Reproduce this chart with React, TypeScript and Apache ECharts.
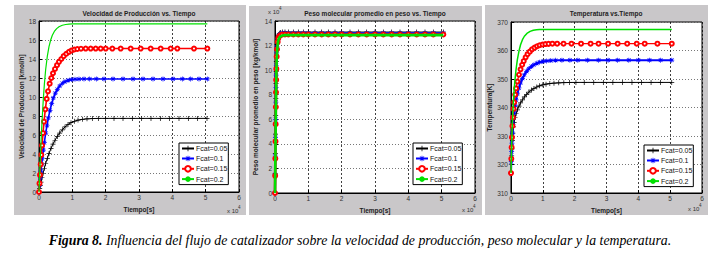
import React, { useEffect, useRef } from 'react';
import * as echarts from 'echarts';

// ---------- texts ----------
const titles = [
  'Velocidad de Producción vs. Tiempo',
  'Peso molecular promedio en peso vs. Tiempo',
  'Temperatura vs.Tiempo',
];
const yNames = [
  'Velocidad de Produccion [kmol/h]',
  'Peso molecular promedio en peso [kg/kmol]',
  'Temperatura[K]',
];
const xName = 'Tiempo[s]';
const legendLabels = ['Fcat=0.05', 'Fcat=0.1', 'Fcat=0.15', 'Fcat=0.2'];
const captionBold = 'Figura 8.';
const captionRest =
  ' Influencia del flujo de catalizador sobre la velocidad de producción, peso molecular y la temperatura.';

// ---------- panel 1: Velocidad de producción [kmol/h], t in 1e4 s ----------
const vel005: number[][] = [
  [0, 0], [0.02, 0.35], [0.04, 0.7], [0.06, 1.05], [0.09, 1.5], [0.12, 1.95], [0.16, 2.5], [0.2, 3.0],
  [0.25, 3.55], [0.3, 4.05], [0.36, 4.6], [0.42, 5.05], [0.48, 5.45], [0.55, 5.85], [0.62, 6.2], [0.7, 6.55],
  [0.78, 6.85], [0.87, 7.1], [0.96, 7.3], [1.06, 7.45], [1.17, 7.57], [1.3, 7.65], [1.44, 7.7], [1.6, 7.73],
  [1.78, 7.75], [2.0, 7.75], [2.25, 7.75], [2.52, 7.75], [2.8, 7.75], [3.08, 7.75], [3.36, 7.75], [3.64, 7.75],
  [3.92, 7.75], [4.2, 7.75], [4.48, 7.75], [4.76, 7.75], [5.04, 7.75],
];
const vel01: number[][] = [
  [0, 0], [0.02, 0.75], [0.04, 1.5], [0.06, 2.2], [0.08, 2.9], [0.1, 3.5], [0.13, 4.4], [0.16, 5.2], [0.2, 6.2],
  [0.24, 7.0], [0.28, 7.8], [0.33, 8.6], [0.38, 9.3], [0.43, 9.9], [0.49, 10.4], [0.55, 10.8], [0.62, 11.15],
  [0.7, 11.45], [0.78, 11.62], [0.87, 11.75], [0.97, 11.83], [1.08, 11.87], [1.2, 11.89], [1.35, 11.9],
  [1.52, 11.9], [1.72, 11.9], [1.95, 11.9], [2.22, 11.9], [2.52, 11.9], [2.82, 11.9], [3.12, 11.9], [3.42, 11.9],
  [3.72, 11.9], [4.02, 11.9], [4.3, 11.9], [4.55, 11.9], [4.8, 11.9], [5.05, 11.9],
];
const vel015: number[][] = [
  [0, 0], [0.015, 0.9], [0.03, 1.8], [0.05, 2.9], [0.07, 3.9], [0.09, 4.9], [0.12, 6.2], [0.15, 7.4], [0.19, 8.7],
  [0.23, 9.8], [0.27, 10.6], [0.32, 11.4], [0.37, 12.0], [0.42, 12.5], [0.48, 12.95], [0.54, 13.35], [0.6, 13.7],
  [0.67, 14.0], [0.74, 14.3], [0.82, 14.55], [0.9, 14.75], [0.98, 14.9], [1.06, 15.0], [1.15, 15.05], [1.26, 15.08],
  [1.4, 15.1], [1.55, 15.1], [1.7, 15.1], [1.85, 15.1], [2.0, 15.1], [2.2, 15.1], [2.45, 15.1], [2.75, 15.1],
  [3.05, 15.1], [3.35, 15.1], [3.65, 15.1], [3.95, 15.1], [4.15, 15.1], [4.65, 15.1], [5.05, 15.1],
];
const vel02: number[][] = [
  [0, 0], [0.02, 1.8], [0.04, 3.6], [0.06, 5.2], [0.08, 6.7], [0.1, 8.0], [0.13, 9.8], [0.16, 11.3], [0.2, 12.9],
  [0.25, 14.3], [0.3, 15.3], [0.35, 16.0], [0.4, 16.5], [0.46, 16.9], [0.53, 17.2], [0.6, 17.4], [0.7, 17.55],
  [0.8, 17.63], [0.9, 17.68], [1.0, 17.7], [1.5, 17.7], [2.0, 17.7], [3.0, 17.7], [4.0, 17.7], [5.05, 17.7],
];

// ---------- panel 2: Peso molecular [x1e4 kg/kmol] ----------
const pmTime = [
  0, 0.005, 0.01, 0.015, 0.02, 0.025, 0.03, 0.035, 0.04, 0.05, 0.06, 0.08, 0.1, 0.13, 0.17, 0.22, 0.3, 0.4, 0.55,
  0.7, 0.85, 1.0, 1.2, 1.4, 1.6, 1.8, 2.0, 2.25, 2.5, 2.75, 3.0, 3.25, 3.5, 3.75, 4.0, 4.25, 4.5, 4.75, 5.05,
];
const pm005 = [
  0, 1.6, 3.2, 4.8, 6.3, 7.7, 8.9, 9.9, 10.7, 11.6, 12.1, 12.6, 12.85, 13.0, 13.07, 13.1, 13.1, 13.1, 13.1,
  13.1, 13.1, 13.1, 13.1, 13.1, 13.1, 13.1, 13.1, 13.1, 13.1, 13.1, 13.1, 13.1, 13.1, 13.1, 13.1, 13.1, 13.1, 13.1, 13.1,
];
const pm01 = [
  0, 1.5, 3.0, 4.5, 6.0, 7.4, 8.6, 9.6, 10.4, 11.4, 11.9, 12.45, 12.72, 12.88, 12.96, 13.0, 13.0, 13.0, 13.0,
  13.0, 13.0, 13.0, 13.0, 13.0, 13.0, 13.0, 13.0, 13.0, 13.0, 13.0, 13.0, 13.0, 13.0, 13.0, 13.0, 13.0, 13.0, 13.0, 13.0,
];
const pm015 = [
  0, 1.4, 2.8, 4.2, 5.6, 7.0, 8.2, 9.2, 10.1, 11.1, 11.7, 12.3, 12.6, 12.78, 12.86, 12.9, 12.9, 12.9, 12.9,
  12.9, 12.9, 12.9, 12.9, 12.9, 12.9, 12.9, 12.9, 12.9, 12.9, 12.9, 12.9, 12.9, 12.9, 12.9, 12.9, 12.9, 12.9, 12.9, 12.9,
];
const pm02 = [
  0, 1.3, 2.6, 3.9, 5.2, 6.5, 7.7, 8.7, 9.6, 10.7, 11.4, 12.1, 12.45, 12.65, 12.76, 12.82, 12.85, 12.85, 12.85,
  12.85, 12.85, 12.85, 12.85, 12.85, 12.85, 12.85, 12.85, 12.85, 12.85, 12.85, 12.85, 12.85, 12.85, 12.85, 12.85, 12.85, 12.85, 12.85, 12.85,
];

// ---------- panel 3: Temperatura [K] ----------
const temp005: number[][] = [
  [0, 317], [0.01, 320], [0.02, 323], [0.03, 325.5], [0.045, 328.5], [0.06, 331], [0.08, 333.2], [0.1, 334.8],
  [0.13, 336.5], [0.16, 337.8], [0.2, 339.2], [0.25, 340.5], [0.3, 341.6], [0.36, 342.7], [0.42, 343.7],
  [0.49, 344.6], [0.56, 345.4], [0.64, 346.1], [0.72, 346.7], [0.81, 347.2], [0.9, 347.6], [1.0, 347.95],
  [1.1, 348.2], [1.22, 348.4], [1.35, 348.55], [1.5, 348.65], [1.66, 348.72], [1.84, 348.78], [2.04, 348.8],
  [2.3, 348.8], [2.6, 348.8], [2.9, 348.8], [3.2, 348.8], [3.5, 348.8], [3.8, 348.8], [4.1, 348.8], [4.4, 348.8],
  [4.7, 348.8], [5.05, 348.8],
];
const temp01: number[][] = [
  [0, 317], [0.01, 321], [0.02, 324.5], [0.03, 327.5], [0.045, 331], [0.06, 334], [0.08, 336.5], [0.1, 338.5],
  [0.13, 340.8], [0.16, 342.7], [0.2, 344.8], [0.25, 346.9], [0.3, 348.6], [0.36, 350.2], [0.42, 351.5],
  [0.49, 352.7], [0.56, 353.6], [0.64, 354.4], [0.72, 355.0], [0.81, 355.5], [0.9, 355.9], [1.0, 356.15],
  [1.12, 356.35], [1.25, 356.48], [1.4, 356.55], [1.6, 356.6], [1.85, 356.6], [2.1, 356.6], [2.4, 356.6],
  [2.75, 356.6], [3.05, 356.6], [3.35, 356.6], [3.7, 356.6], [4.0, 356.6], [4.35, 356.6], [4.7, 356.6], [5.05, 356.6],
];
const temp015: number[][] = [
  [0, 317], [0.01, 322], [0.02, 326], [0.03, 329.5], [0.045, 333.5], [0.06, 336.5], [0.08, 339.5], [0.1, 341.8],
  [0.13, 344.5], [0.16, 346.7], [0.2, 349.1], [0.25, 351.5], [0.3, 353.4], [0.35, 355.0], [0.4, 356.3],
  [0.46, 357.6], [0.52, 358.7], [0.59, 359.6], [0.66, 360.4], [0.74, 361.0], [0.82, 361.5], [0.9, 361.85],
  [0.99, 362.1], [1.08, 362.25], [1.18, 362.33], [1.3, 362.38], [1.45, 362.4], [1.65, 362.4], [1.9, 362.4],
  [2.2, 362.4], [2.5, 362.4], [2.75, 362.4], [3.05, 362.4], [3.35, 362.4], [3.65, 362.4], [3.95, 362.4],
  [4.2, 362.4], [4.6, 362.4], [5.05, 362.4],
];
const temp02: number[][] = [
  [0, 317], [0.02, 327], [0.04, 334], [0.06, 339], [0.08, 343], [0.1, 346.3], [0.13, 350.3], [0.16, 353.5],
  [0.2, 356.8], [0.25, 359.8], [0.3, 362.0], [0.36, 363.8], [0.42, 365.0], [0.5, 366.0], [0.6, 366.7],
  [0.7, 367.1], [0.8, 367.3], [0.9, 367.4], [1.0, 367.4], [1.5, 367.4], [2.0, 367.4], [2.5, 367.4], [3.0, 367.4],
  [3.5, 367.4], [4.0, 367.4], [4.5, 367.4], [5.05, 367.4],
];

// axis ranges
const yRanges = [
  { min: 0, max: 18, interval: 2 },
  { min: 0, max: 14, interval: 2 },
  { min: 310, max: 370, interval: 10 },
];

const zip = (t: number[], v: number[]) => t.map((x, i) => [x, v[i]]);

const PLUS = 'path://M4.3,0H5.7V10H4.3Z M0,4.3H10V5.7H0Z';
const STAR =
  'path://M4.3,0H5.7V10H4.3Z M0,4.3H10V5.7H0Z M0.8,1.8L1.8,0.8L9.2,8.2L8.2,9.2Z M0.8,8.2L8.2,0.8L9.2,1.8L1.8,9.2Z';

const curveStyles = [
  { color: '#000000', symbol: PLUS, size: 5 },
  { color: '#0000ff', symbol: STAR, size: 5 },
  { color: '#ff0000', symbol: 'emptyCircle', size: 4 },
  { color: '#00e000', symbol: 'none', size: 0 },
];
const lineWidths = [
  [1, 1.6, 1.6, 1.2],
  [1, 2.2, 2.6, 2.6],
  [1, 2, 1.2, 1.5],
];

const FONT = 'Liberation Sans, Arial, sans-serif';

const grids = [
  { left: 39, top: 21, width: 200, height: 171 },
  { left: 275, top: 21, width: 200, height: 172 },
  { left: 511, top: 22, width: 191, height: 171 },
];
const panels = [
  { x: 14, y: 5, w: 232, h: 210 },
  { x: 249, y: 6, w: 233, h: 209 },
  { x: 485, y: 5, w: 223, h: 210 },
];
const yNameGaps = [13, 16, 18];
const legendPos = [
  { left: 179, top: 143 },
  { left: 413, top: 143 },
  { left: 644, top: 145 },
];

export default function App() {
  const ref = useRef<HTMLDivElement>(null);
  useEffect(() => {
    if (!ref.current) return;
    const chart = echarts.init(ref.current, undefined, { renderer: 'svg' });
    const panelData = [
      [vel005, vel01, vel015, vel02],
      [zip(pmTime, pm005), zip(pmTime, pm01), zip(pmTime, pm015), zip(pmTime, pm02)],
      [temp005, temp01, temp015, temp02],
    ];
    const series: any[] = [];
    panelData.forEach((arrs, p) => {
      arrs.forEach((d, i) => {
        const s = curveStyles[i];
        series.push({
          type: 'line',
          name: `${p}|${legendLabels[i]}`,
          xAxisIndex: p,
          yAxisIndex: p,
          data: d,
          color: s.color,
          symbol: s.symbol,
          symbolSize: s.size,
          showSymbol: s.symbol !== 'none',
          lineStyle: { color: s.color, width: lineWidths[p][i] },
          itemStyle: { color: s.color, borderColor: s.color, borderWidth: i === 2 ? 0.9 : 0 },
          silent: true,
          z: 2 + i,
        });
      });
    });

    const xAxes = grids.map((_, p) => ({
      type: 'value',
      gridIndex: p,
      min: 0,
      max: 6,
      interval: 1,
      name: xName,
      nameLocation: 'middle',
      nameGap: 8,
      nameTextStyle: { fontSize: 6.5, fontWeight: 'bold', color: '#222', fontFamily: FONT },
      axisLine: { show: true, lineStyle: { color: '#000', width: 1 } },
      axisTick: { show: true, inside: true, length: 3, lineStyle: { color: '#000' } },
      axisLabel: { fontSize: 6.5, color: '#333', margin: 2, fontFamily: FONT },
      splitLine: { show: true, lineStyle: { color: '#000', type: [2, 2], width: 1, opacity: 0.75 } },
    }));
    const yAxes = grids.map((_, p) => ({
      type: 'value',
      gridIndex: p,
      min: yRanges[p].min,
      max: yRanges[p].max,
      interval: yRanges[p].interval,
      name: yNames[p],
      nameLocation: 'middle',
      nameGap: yNameGaps[p],
      nameRotate: 90,
      nameTextStyle: { fontSize: 6.5, fontWeight: 'bold', color: '#222', fontFamily: FONT },
      axisLine: { show: true, lineStyle: { color: '#000', width: 1 } },
      axisTick: { show: true, inside: true, length: 3, lineStyle: { color: '#000' } },
      axisLabel: { fontSize: 6.5, color: '#333', margin: 3, fontFamily: FONT },
      splitLine: { show: true, lineStyle: { color: '#555', type: [1, 2], width: 1, opacity: 0.8 } },
    }));

    const legends = legendPos.map((pos, p) => ({
      data: legendLabels.map((l) => `${p}|${l}`),
      left: pos.left,
      top: pos.top,
      orient: 'vertical',
      itemGap: 3,
      itemWidth: 12,
      itemHeight: 7,
      padding: [2, 1, 2, 2],
      backgroundColor: '#fff',
      borderColor: '#000',
      borderWidth: 1,
      selectedMode: false,
      formatter: (n: string) => n.split('|')[1],
      textStyle: { fontSize: 7, color: '#111', fontFamily: FONT, padding: [0, 0, 0, -3] },
    }));

    const titleCenters = [139, 375, 606];
    const graphic: any[] = [];
    panels.forEach((r) => {
      graphic.push({
        type: 'rect',
        z: -10,
        shape: { x: r.x, y: r.y, width: r.w, height: r.h },
        style: { fill: '#c9c7c9' },
        silent: true,
      });
    });
    titles.forEach((t, p) => {
      graphic.push({
        type: 'text',
        x: titleCenters[p],
        y: 13,
        style: {
          text: t,
          fontSize: 6.5,
          fontWeight: 'bold',
          fontFamily: FONT,
          fill: '#222',
          align: 'center',
          verticalAlign: 'middle',
        },
        silent: true,
      });
    });
    const exps = [
      { x: 227, y: 211 },
      { x: 462, y: 210 },
      { x: 688, y: 209 },
      { x: 268, y: 12 },
    ];
    exps.forEach((e) => {
      graphic.push({
        type: 'text',
        x: e.x,
        y: e.y,
        style: { text: 'x 10', fontSize: 6, fontFamily: FONT, fill: '#333', align: 'left', verticalAlign: 'middle' },
        silent: true,
      });
      graphic.push({
        type: 'text',
        x: e.x + 11,
        y: e.y - 4,
        style: { text: '4', fontSize: 4.5, fontFamily: FONT, fill: '#333', align: 'left', verticalAlign: 'middle' },
        silent: true,
      });
    });
    graphic.push({
      type: 'text',
      x: 360,
      y: 240,
      style: {
        text: `{b|${captionBold}}{n|${captionRest}}`,
        align: 'center',
        verticalAlign: 'middle',
        rich: {
          b: { fontSize: 13.8, fontWeight: 'bold', fontStyle: 'italic', fontFamily: 'Liberation Serif', fill: '#000' },
          n: { fontSize: 13.8, fontStyle: 'italic', fontFamily: 'Liberation Serif', fill: '#000' },
        },
      },
      silent: true,
    });

    chart.setOption({
      animation: false,
      backgroundColor: '#fff',
      grid: grids.map((g) => ({
        ...g,
        show: true,
        backgroundColor: '#fff',
        borderColor: '#000',
        borderWidth: 1,
        containLabel: false,
      })),
      xAxis: xAxes,
      yAxis: yAxes,
      legend: legends,
      series,
      graphic,
    });
    return () => chart.dispose();
  }, []);
  return (
    <div
      ref={ref}
      style={{ position: 'absolute', left: 0, top: 0, width: 716, height: 253, background: '#fff' }}
    />
  );
}
